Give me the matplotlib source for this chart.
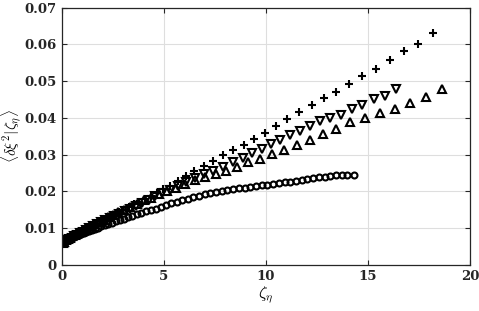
import matplotlib
matplotlib.use("Agg")
import matplotlib.pyplot as plt

plt.rcParams["mathtext.fontset"] = "cm"

# plus series
plus_x = [0.05, 0.1, 0.16, 0.23, 0.3, 0.38, 0.47, 0.57, 0.68, 0.8, 0.93, 1.07,
          1.22, 1.38, 1.55, 1.73, 1.92, 2.12, 2.33, 2.55, 2.78, 3.02, 3.27, 3.53,
          3.8, 4.08, 4.37, 4.67, 4.98, 5.3, 5.7, 6.1, 6.5, 6.98, 7.4, 7.9, 8.4,
          8.92, 9.41, 9.95, 10.49, 11.06, 11.63, 12.24, 12.84, 13.46, 14.08,
          14.72, 15.41, 16.08, 16.78, 17.47, 18.2]
plus_y = [0.0057, 0.0059, 0.0061, 0.0063, 0.0066, 0.0069, 0.0072, 0.0075, 0.0079,
          0.0083, 0.0087, 0.0092, 0.0097, 0.0102, 0.0107, 0.0112, 0.0118, 0.0124,
          0.0130, 0.0136, 0.0143, 0.0150, 0.0157, 0.0164, 0.0172, 0.0180, 0.0188,
          0.0196, 0.0205, 0.0215, 0.0228, 0.0242, 0.0256, 0.0270, 0.0283, 0.0300,
          0.0313, 0.0327, 0.0343, 0.0360, 0.0379, 0.0397, 0.0416, 0.0435, 0.0453,
          0.0471, 0.0493, 0.0515, 0.0534, 0.0558, 0.0581, 0.0601, 0.0631]

# down triangles
dn_x = [0.04, 0.1, 0.18, 0.27, 0.37, 0.48, 0.6, 0.73, 0.87, 1.02, 1.18, 1.35,
        1.53, 1.72, 1.92, 2.13, 2.35, 2.58, 2.82, 3.08, 3.35, 3.63, 3.93, 4.25,
        4.58, 4.93, 5.3, 5.68, 6.08, 6.52, 6.96, 7.42, 7.9, 8.37, 8.86, 9.34,
        9.8, 10.25, 10.7, 11.19, 11.67, 12.16, 12.65, 13.15, 13.66, 14.2, 14.72,
        15.29, 15.83, 16.4]
dn_y = [0.0058, 0.0060, 0.0063, 0.0066, 0.0069, 0.0073, 0.0077, 0.0081, 0.0086,
        0.0090, 0.0095, 0.0100, 0.0105, 0.0110, 0.0115, 0.0121, 0.0127, 0.0133,
        0.0139, 0.0146, 0.0153, 0.0161, 0.0169, 0.0177, 0.0186, 0.0195, 0.0204,
        0.0214, 0.0224, 0.0236, 0.0247, 0.0256, 0.0265, 0.0279, 0.0291, 0.0305,
        0.0314, 0.0328, 0.0340, 0.0353, 0.0365, 0.0377, 0.0392, 0.0401, 0.0409,
        0.0424, 0.0435, 0.0451, 0.0460, 0.0480]

# up triangles
up_x = [0.06, 0.13, 0.21, 0.3, 0.4, 0.51, 0.63, 0.76, 0.9, 1.06, 1.23, 1.41,
        1.6, 1.8, 2.02, 2.25, 2.5, 2.77, 3.05, 3.35, 3.67, 4.01, 4.37, 4.75,
        5.15, 5.58, 6.03, 6.52, 7.02, 7.55, 8.07, 8.6, 9.13, 9.72, 10.3, 10.9,
        11.53, 12.16, 12.81, 13.46, 14.13, 14.85, 15.59, 16.32, 17.06, 17.83,
        18.61]
up_y = [0.0059, 0.0062, 0.0066, 0.0069, 0.0073, 0.0077, 0.0081, 0.0086, 0.0090,
        0.0095, 0.0100, 0.0106, 0.0111, 0.0117, 0.0123, 0.0129, 0.0136, 0.0143,
        0.0150, 0.0158, 0.0166, 0.0175, 0.0183, 0.0192, 0.0201, 0.0210, 0.0220,
        0.0230, 0.0238, 0.0247, 0.0256, 0.0267, 0.0279, 0.0288, 0.0302, 0.0313,
        0.0325, 0.0340, 0.0356, 0.0370, 0.0389, 0.0401, 0.0412, 0.0423, 0.0441,
        0.0458, 0.0480]

# circles
circ_x = [0.03, 0.08, 0.14, 0.2, 0.27, 0.35, 0.43, 0.52, 0.62, 0.72, 0.83, 0.95,
          1.07, 1.2, 1.33, 1.47, 1.62, 1.77, 1.93, 2.1, 2.27, 2.45, 2.64, 2.83,
          3.03, 3.24, 3.45, 3.67, 3.9, 4.13, 4.37, 4.61, 4.86, 5.11, 5.37, 5.63,
          5.9, 6.17, 6.44, 6.72, 7.0, 7.28, 7.56, 7.84, 8.12, 8.4, 8.68, 8.96,
          9.24, 9.52, 9.8, 10.08, 10.36, 10.64, 10.92, 11.2, 11.48, 11.76, 12.04,
          12.32, 12.6, 12.88, 13.16, 13.44, 13.72, 14.0, 14.3]
circ_y = [0.0059, 0.0060, 0.0062, 0.0064, 0.0066, 0.0068, 0.0070, 0.0073, 0.0075,
          0.0078, 0.0081, 0.0084, 0.0087, 0.0090, 0.0092, 0.0095, 0.0098, 0.0101,
          0.0104, 0.0108, 0.0111, 0.0114, 0.0118, 0.0121, 0.0125, 0.0129, 0.0133,
          0.0137, 0.0141, 0.0145, 0.0149, 0.0153, 0.0158, 0.0162, 0.0167, 0.0171,
          0.0176, 0.0180, 0.0184, 0.0188, 0.0192, 0.0195, 0.0198, 0.0201, 0.0204,
          0.0206, 0.0208, 0.0210, 0.0212, 0.0214, 0.0216, 0.0218, 0.0220, 0.0222,
          0.0224, 0.0226, 0.0228, 0.0231, 0.0233, 0.0236, 0.0238, 0.0240, 0.0242,
          0.0244, 0.0245, 0.0245, 0.0244]

x_ticks = [0, 5, 10, 15, 20]
y_ticks = [0, 0.01, 0.02, 0.03, 0.04, 0.05, 0.06, 0.07]
y_tick_labels = ["0", "0.01", "0.02", "0.03", "0.04", "0.05", "0.06", "0.07"]

fig = plt.figure(figsize=(4.79, 3.11), dpi=100)
ax = fig.add_axes([0.129, 0.149, 0.852, 0.826])

mk = dict(linestyle="none", color="black", mfc="none", mew=1.5)
ax.plot(circ_x, circ_y, marker="o", ms=4.3, **mk)
ax.plot(up_x, up_y, marker="^", ms=5.2, **mk)
ax.plot(dn_x, dn_y, marker="v", ms=5.2, **mk)
ax.plot(plus_x, plus_y, marker="+", ms=6, **mk)

ax.set_xlim(0, 20)
ax.set_ylim(0, 0.07)
ax.set_xticks(x_ticks)
ax.set_xticklabels([str(t) for t in x_ticks])
ax.set_yticks(y_ticks)
ax.set_yticklabels(y_tick_labels)
ax.grid(True, color="#dedede", linewidth=0.8)
ax.set_axisbelow(True)

ax.tick_params(direction="in", length=3.5, width=0.8, top=True, right=True,
               labelsize=9.5, pad=4, colors="#262626")
for lab in ax.get_xticklabels() + ax.get_yticklabels():
    lab.set_fontfamily("DejaVu Serif")
    lab.set_fontweight("bold")
    lab.set_color("#262626")
for sp in ax.spines.values():
    sp.set_linewidth(0.9)
    sp.set_color("#262626")

ax.set_xlabel(r"$\zeta_\eta$", fontsize=12, labelpad=1)
ax.set_ylabel(r"$\langle \delta\xi^2 | \zeta_\eta \rangle$", fontsize=11)
ax.yaxis.set_label_coords(-0.093, 0.5)

fig.savefig("out.png", dpi=100)
